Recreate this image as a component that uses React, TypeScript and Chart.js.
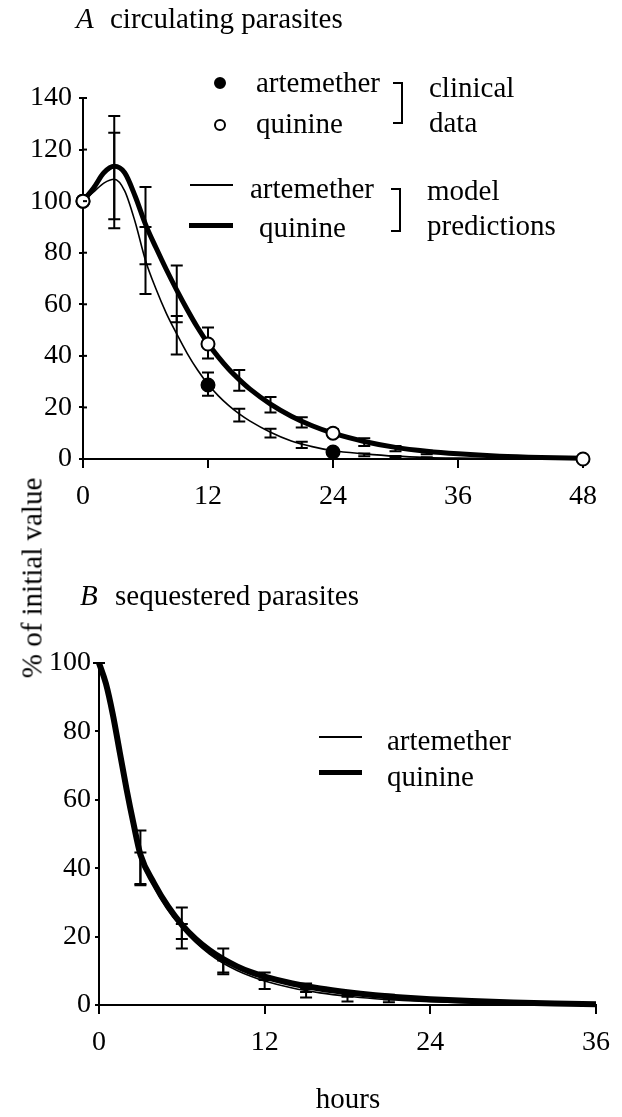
import React, { useEffect, useRef } from 'react';
import { Chart, registerables } from 'chart.js';

Chart.register(...registerables);

const FONT = "'Liberation Serif', 'Times New Roman', serif";

// ---------- Panel A: circulating parasites ----------
const hoursModelA = [0, 1, 2, 3, 4, 5, 6, 7, 8, 9, 10, 11, 12, 13, 14, 15, 16, 18, 20, 22, 24, 27, 30, 33, 36, 40, 44, 48];
const quinineModelA = [100, 105, 111, 113.5, 111, 102, 91, 82, 73.5, 65.5, 58, 51, 44.8, 39.5, 34.8, 30.8, 27.2, 21.3, 16.6, 12.9, 10, 6.8, 4.5, 3, 2, 1.1, 0.6, 0.3];
const artemetherModelA = [100, 103.5, 107, 108.5, 104, 92, 77, 66, 56.5, 48.5, 41, 34.5, 29, 24.5, 20.7, 17.5, 14.8, 10.4, 7, 4.8, 3.2, 2, 1.1, 0.6, 0.35, 0.15, 0.05, 0];

const clinicalHoursArtemetherA = [0, 12, 24];
const clinicalArtemetherA = [100, 28.7, 2.7];
const clinicalHoursQuinineA = [0, 12, 24, 48];
const clinicalQuinineA = [100, 44.6, 10, 0];

const errHoursA = [3, 6, 9, 12, 15, 18, 21, 24, 27, 30, 33];
const quinineMeanA = [113, 90.5, 64, 45, 30.5, 21, 14.2, 10, 6.5, 4, 2.5];
const quinineSdA = [20, 15, 11, 6, 4, 3, 2, 1.5, 1.5, 1, 0.7];
const artemetherMeanA = [108, 77, 48, 29, 17, 10, 5.5, 3, 1.6, 0.9, 0.5];
const artemetherSdA = [18.5, 13, 7.5, 4.5, 2.5, 1.7, 1.2, 0.8, 0.5, 0.3, 0.2];

const xTicksA = [0, 12, 24, 36, 48];
const yTicksA = [0, 20, 40, 60, 80, 100, 120, 140];

// ---------- Panel B: sequestered parasites ----------
const hoursModelB = [0, 0.5, 1, 1.5, 2, 2.5, 3, 4, 5, 6, 7, 8, 9, 10, 11, 12, 14, 16, 18, 20, 22, 24, 27, 30, 33, 36];
const quinineModelB = [100, 94, 85, 74, 63, 53, 44, 35.5, 28.8, 23.5, 19.3, 16, 13.4, 11.3, 9.6, 8.3, 6.3, 4.8, 3.7, 2.85, 2.2, 1.7, 1.15, 0.75, 0.45, 0.25];
const artemetherModelB = [100, 94, 85, 74, 62.5, 52, 43, 34.5, 27.8, 22.5, 18.3, 14.9, 12.2, 10.1, 8.4, 7, 4.95, 3.55, 2.55, 1.85, 1.35, 1, 0.6, 0.35, 0.2, 0.1];

const errHoursB = [0, 3, 6, 9, 12, 15, 18, 21];
const quinineMeanB = [100, 43, 22.5, 13, 8.5, 5.5, 3.5, 2.5];
const quinineSdB = [0, 8, 6, 3.5, 1, 0.8, 0.6, 0.5];
const artemetherMeanB = [100, 40, 21.5, 11, 6, 3, 1.7, 1.2];
const artemetherSdB = [0, 4.6, 2.2, 2, 1.3, 0.8, 0.7, 0.4];

const xTicksB = [0, 12, 24, 36];
const yTicksB = [0, 20, 40, 60, 80, 100];

type ErrSet = { hours: number[]; mean: number[]; sd: number[] };

const toXY = (xs: number[], ys: number[]) => xs.map((x, i) => ({ x, y: ys[i] }));

function errorBarPlugin(id: string, sets: ErrSet[], capHalf: number) {
  return {
    id,
    beforeDatasetsDraw(chart: any) {
      const { ctx, scales } = chart;
      const xs = scales.x;
      const ys = scales.y;
      ctx.save();
      ctx.strokeStyle = '#000';
      ctx.lineWidth = 2;
      sets.forEach((s) => {
        s.hours.forEach((h, i) => {
          const px = xs.getPixelForValue(h);
          const top = ys.getPixelForValue(s.mean[i] + s.sd[i]);
          const bot = ys.getPixelForValue(s.mean[i] - s.sd[i]);
          ctx.beginPath();
          ctx.moveTo(px, top);
          ctx.lineTo(px, bot);
          ctx.moveTo(px - capHalf, top);
          ctx.lineTo(px + capHalf, top);
          ctx.moveTo(px - capHalf, bot);
          ctx.lineTo(px + capHalf, bot);
          ctx.stroke();
        });
      });
      ctx.restore();
    },
  };
}

function innerTickPlugin(id: string, ticks: number[], len: number) {
  return {
    id,
    afterDraw(chart: any) {
      const { ctx, scales, chartArea } = chart;
      ctx.save();
      ctx.strokeStyle = '#000';
      ctx.lineWidth = 2;
      ticks.forEach((t) => {
        const py = scales.y.getPixelForValue(t);
        ctx.beginPath();
        ctx.moveTo(chartArea.left, py);
        ctx.lineTo(chartArea.left + len, py);
        ctx.stroke();
      });
      ctx.restore();
    },
  };
}

function axisOptions(
  min: number,
  max: number,
  tickVals: number[],
  isX: boolean,
  fixedSize: number,
  tickLength: number,
  pad: number
) {
  return {
    type: 'linear',
    min,
    max,
    afterBuildTicks: (scale: any) => {
      scale.ticks = tickVals.map((v) => ({ value: v }));
    },
    afterFit: (scale: any) => {
      if (isX) scale.height = fixedSize;
      else scale.width = fixedSize;
    },
    ticks: {
      color: '#000',
      font: { family: FONT, size: 28 },
      padding: pad,
      autoSkip: false,
      maxRotation: 0,
      callback: (v: any) => String(v),
    },
    grid: {
      display: true,
      drawOnChartArea: false,
      drawTicks: true,
      tickLength,
      color: '#000',
      lineWidth: 2,
    },
    border: { display: true, color: '#000', width: 2 },
  };
}

function lineDs(xs: number[], ys: number[], width: number) {
  return {
    data: toXY(xs, ys),
    showLine: true,
    borderColor: '#000',
    borderWidth: width,
    pointRadius: 0,
    cubicInterpolationMode: 'monotone',
    fill: false,
    clip: false,
  };
}

function pointDs(xs: number[], ys: number[], filled: boolean) {
  return {
    data: toXY(xs, ys),
    showLine: false,
    pointRadius: 6.5,
    pointStyle: 'circle',
    pointBackgroundColor: filled ? '#000' : '#fff',
    pointBorderColor: '#000',
    pointBorderWidth: 2,
    clip: false,
  };
}

function useChart(build: () => any) {
  const ref = useRef<HTMLCanvasElement | null>(null);
  useEffect(() => {
    if (!ref.current) return;
    const chart = new Chart(ref.current, build());
    return () => chart.destroy();
  }, []);
  return ref;
}

const W = 622;
const HA = 520;
const HB = 597;
const TOP_B = 520;

function buildA() {
  return {
    type: 'scatter',
    data: {
      datasets: [
        pointDs(clinicalHoursQuinineA, clinicalQuinineA, false),
        pointDs(clinicalHoursArtemetherA, clinicalArtemetherA, true),
        lineDs(hoursModelA, artemetherModelA, 1.6),
        lineDs(hoursModelA, quinineModelA, 5),
      ],
    },
    options: {
      responsive: false,
      maintainAspectRatio: false,
      animation: false,
      events: [],
      layout: { padding: { left: 0, right: 39, top: 98, bottom: 0 } },
      plugins: { legend: { display: false }, tooltip: { enabled: false } },
      scales: {
        x: axisOptions(0, 48, xTicksA, true, 61, 9, 12),
        y: axisOptions(0, 140, yTicksA, false, 83, 4, 7),
      },
    },
    plugins: [
      errorBarPlugin(
        'errA',
        [
          { hours: errHoursA, mean: quinineMeanA, sd: quinineSdA },
          { hours: errHoursA, mean: artemetherMeanA, sd: artemetherSdA },
        ],
        6
      ),
      innerTickPlugin('innerA', yTicksA, 4),
    ],
  };
}

function buildB() {
  return {
    type: 'scatter',
    data: {
      datasets: [
        lineDs(hoursModelB, artemetherModelB, 1.6),
        lineDs(hoursModelB, quinineModelB, 6),
      ],
    },
    options: {
      responsive: false,
      maintainAspectRatio: false,
      animation: false,
      events: [],
      layout: { padding: { left: 0, right: 25, top: 143, bottom: 52 } },
      plugins: { legend: { display: false }, tooltip: { enabled: false } },
      scales: {
        x: axisOptions(0, 36, xTicksB, true, 60, 9, 12),
        y: axisOptions(0, 100, yTicksB, false, 99, 4, 4),
      },
    },
    plugins: [
      errorBarPlugin(
        'errB',
        [
          { hours: errHoursB, mean: quinineMeanB, sd: quinineSdB },
          { hours: errHoursB, mean: artemetherMeanB, sd: artemetherSdB },
        ],
        6
      ),
    ],
  };
}

const FS = 29;
const ASC = FS * 0.8375; // baseline offset for Liberation Serif with line-height = font-size

function Txt(props: { x: number; base: number; children: React.ReactNode; italic?: boolean }) {
  return (
    <div
      style={{
        position: 'absolute',
        left: props.x,
        top: props.base - ASC,
        fontFamily: FONT,
        fontSize: FS,
        lineHeight: FS + 'px',
        fontStyle: props.italic ? 'italic' : 'normal',
        whiteSpace: 'nowrap',
        color: '#000',
      }}
    >
      {props.children}
    </div>
  );
}

function HLine(props: { x1: number; x2: number; y: number; w: number }) {
  return (
    <div
      style={{
        position: 'absolute',
        left: props.x1,
        top: props.y - props.w / 2,
        width: props.x2 - props.x1,
        height: props.w,
        background: '#000',
      }}
    />
  );
}

function Dot(props: { x: number; y: number; filled: boolean }) {
  const r = 6;
  return (
    <div
      style={{
        position: 'absolute',
        left: props.x - r,
        top: props.y - r,
        width: 2 * r - 4,
        height: 2 * r - 4,
        border: '2px solid #000',
        borderRadius: '50%',
        background: props.filled ? '#000' : '#fff',
      }}
    />
  );
}

function Bracket(props: { x: number; y1: number; y2: number }) {
  return (
    <div
      style={{
        position: 'absolute',
        left: props.x - 10,
        top: props.y1 - 1,
        width: 8,
        height: props.y2 - props.y1 - 2,
        borderTop: '2px solid #000',
        borderBottom: '2px solid #000',
        borderRight: '2.5px solid #000',
      }}
    />
  );
}

export default function App() {
  const refA = useChart(buildA);
  const refB = useChart(buildB);
  return (
    <div style={{ position: 'absolute', left: 0, top: 0, width: W, height: 1117, background: '#fff', overflow: 'hidden' }}>
      <canvas ref={refA} width={W} height={HA} style={{ position: 'absolute', left: 0, top: 0, width: W, height: HA }} />
      <canvas ref={refB} width={W} height={HB} style={{ position: 'absolute', left: 0, top: TOP_B, width: W, height: HB }} />

      {/* Panel A title */}
      <Txt x={76} base={28} italic>A</Txt>
      <Txt x={110} base={28}>circulating parasites</Txt>

      {/* Panel A legend: clinical data */}
      <Dot x={220} y={83} filled />
      <Txt x={256} base={92}>artemether</Txt>
      <Dot x={220} y={125} filled={false} />
      <Txt x={256} base={133}>quinine</Txt>
      <Bracket x={403} y1={83} y2={123} />
      <Txt x={429} base={97}>clinical</Txt>
      <Txt x={429} base={132}>data</Txt>

      {/* Panel A legend: model predictions */}
      <HLine x1={190} x2={233} y={185} w={1.6} />
      <Txt x={250} base={198}>artemether</Txt>
      <HLine x1={189} x2={233} y={225} w={5} />
      <Txt x={259} base={237}>quinine</Txt>
      <Bracket x={401} y1={189} y2={231} />
      <Txt x={427} base={200}>model</Txt>
      <Txt x={427} base={235}>predictions</Txt>

      {/* Panel B title */}
      <Txt x={80} base={605} italic>B</Txt>
      <Txt x={115} base={605}>sequestered parasites</Txt>

      {/* Panel B legend */}
      <HLine x1={319} x2={362} y={737} w={1.6} />
      <Txt x={387} base={750}>artemether</Txt>
      <HLine x1={319} x2={362} y={772} w={5} />
      <Txt x={387} base={786}>quinine</Txt>

      {/* Shared axis titles */}
      <div
        style={{
          position: 'absolute',
          left: 32,
          top: 578,
          transform: 'translate(-50%, -50%) rotate(-90deg)',
          fontFamily: FONT,
          fontSize: FS,
          lineHeight: FS + 'px',
          whiteSpace: 'nowrap',
          color: '#000',
        }}
      >
        % of initial value
      </div>
      <div
        style={{
          position: 'absolute',
          left: 348,
          top: 1108 - ASC,
          transform: 'translateX(-50%)',
          fontFamily: FONT,
          fontSize: FS,
          lineHeight: FS + 'px',
          whiteSpace: 'nowrap',
          color: '#000',
        }}
      >
        hours
      </div>
    </div>
  );
}
